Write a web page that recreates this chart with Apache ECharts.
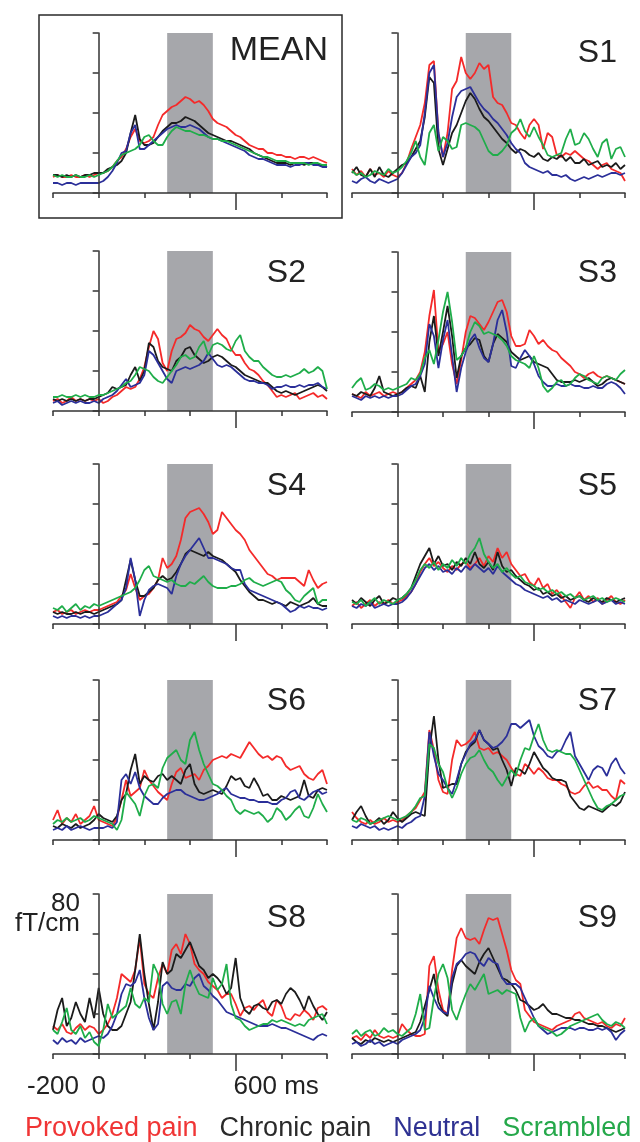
<!DOCTYPE html>
<html><head><meta charset="utf-8">
<script src="https://cdn.jsdelivr.net/npm/echarts@6/dist/echarts.min.js"></script>
<style>html,body{margin:0;padding:0;background:#fff}#c{width:640px;height:1142px}</style>
</head><body><div id="c"></div>
<script>
// time axis (ms), sampled every 20 ms
const times = [-200,-180,-160,-140,-120,-100,-80,-60,-40,-20,
  0,20,40,60,80,100,120,140,160,180,
  200,220,240,260,280,300,320,340,360,380,
  400,420,440,460,480,500,520,540,560,580,
  600,620,640,660,680,700,720,740,760,780,
  800,820,840,860,880,900,920,940,960,980,1000];
const conditions = ['Provoked pain','Chronic pain','Neutral','Scrambled'];
const panelNames = ['MEAN','S1','S2','S3','S4','S5','S6','S7','S8','S9'];
const xLabelsShown = [-200, 0, 600];
const yLabelShown = 80;
const bandRange = [300, 500];

// values in fT/cm
const MEAN_red = [8,9,8,8,9,8,8,9,8,9, 10,10,11,13,16,18,22,28,32,26, 25,26,28,34,39,41,43,44,46,48, 47,45,46,44,41,37,35,34,33,31, 29,28,26,24,23,22,22,20,20,19, 19,18,18,17,18,18,17,18,17,16, 15];
const MEAN_black = [9,9,8,9,8,9,8,9,9,10, 10,10,12,13,14,16,20,30,39,27, 24,24,25,28,31,33,35,35,36,38, 37,36,34,32,30,29,28,27,26,26, 25,24,23,22,20,19,18,17,16,15, 15,15,14,15,15,14,15,15,14,14, 13];
const MEAN_blue = [5,5,4,5,5,4,5,5,5,5, 5,6,8,11,15,20,21,30,34,22, 22,24,26,28,30,32,33,34,33,33, 34,33,32,30,28,27,27,26,25,24, 23,22,21,19,18,17,17,16,15,14, 14,14,13,14,14,15,15,14,14,13, 13];
const MEAN_green = [9,8,9,8,8,9,8,8,9,8, 9,10,11,13,16,19,20,21,22,24, 28,29,26,24,24,28,31,33,32,31, 31,30,29,29,28,27,27,26,26,25, 24,23,22,21,20,19,18,18,17,16, 16,16,15,15,15,15,14,15,15,14, 14];

const S1_red = [12,9,11,8,12,9,10,8,11,9, 8,10,15,22,28,34,45,64,66,30, 18,30,52,56,68,60,57,60,65,62, 64,48,45,44,40,35,34,30,27,34, 37,34,22,30,28,19,18,20,19,21, 19,17,16,14,12,14,15,12,11,10, 6];
const S1_black = [10,13,9,8,12,8,13,9,8,10, 12,14,15,18,22,26,38,58,55,22, 14,22,30,34,40,46,50,47,42,38, 36,33,30,27,25,22,20,22,21,19, 18,20,17,16,18,17,19,16,18,15, 15,17,14,15,16,13,14,13,15,12, 14];
const S1_blue = [6,5,7,8,6,5,7,6,5,6, 7,10,14,18,20,24,40,60,64,30, 18,25,38,48,51,52,53,49,45,42, 40,37,35,32,29,25,22,20,15,13, 12,11,10,11,9,9,8,9,7,6, 7,8,7,8,9,8,9,10,10,9, 10];
const S1_green = [11,9,10,8,9,11,10,9,12,10, 11,13,16,20,26,18,14,30,34,21, 28,26,22,23,34,35,34,33,31,26, 21,19,19,21,24,30,32,37,31,28, 33,28,24,19,18,19,20,27,32,24, 25,30,27,22,18,25,27,17,22,23, 18];

const S2_red = [5,6,4,5,7,5,6,5,6,5, 6,4,5,7,8,10,12,11,12,16, 22,32,40,36,24,20,30,36,37,39, 43,41,40,37,35,38,41,38,36,31, 28,28,24,21,20,18,15,13,10,7, 8,7,8,9,6,7,8,9,7,8, 6];
const S2_black = [6,5,6,5,6,5,6,5,6,6, 7,8,9,12,11,12,13,18,22,15, 20,34,32,25,22,21,20,25,27,31, 32,28,26,24,25,27,28,27,25,23, 22,20,18,17,16,15,14,14,12,10, 9,10,9,8,9,10,11,12,13,12, 10];
const S2_blue = [4,5,3,4,5,4,5,4,4,5, 4,6,7,8,10,13,16,12,13,14, 18,30,28,24,20,16,14,20,21,22, 21,22,23,25,29,26,23,22,23,22, 20,18,16,15,15,14,14,13,11,12, 12,13,12,12,13,12,13,13,14,12, 11];
const S2_green = [7,7,8,7,7,8,7,8,7,7, 8,8,9,10,11,12,14,15,18,22, 21,20,17,15,14,17,20,23,27,28, 26,27,32,35,28,33,34,33,31,30, 35,38,30,27,25,25,22,20,18,17, 17,18,17,18,19,21,19,20,22,20, 11];

const S3_red = [9,8,7,10,8,9,10,8,9,10, 9,10,12,14,16,20,30,48,61,30, 34,40,24,14,26,40,48,47,44,41, 45,50,55,56,50,38,33,33,34,41, 38,34,36,33,31,30,27,25,23,20, 19,17,19,20,18,17,18,17,16,15, 14];
const S3_black = [9,8,10,9,8,12,18,10,9,8, 9,10,12,13,12,18,10,35,48,28, 40,53,38,17,28,32,34,37,36,28, 25,34,39,37,35,30,28,26,27,28, 25,24,23,22,19,16,15,15,15,16, 15,16,17,15,13,14,16,17,16,15, 14];
const S3_blue = [8,7,6,8,7,8,7,8,7,8, 8,9,11,13,14,18,24,44,38,22, 36,46,28,10,22,30,36,39,32,27, 25,34,46,51,40,23,22,27,31,28, 24,18,15,13,13,14,13,13,14,13, 13,12,12,13,12,12,14,15,14,12, 9];
const S3_green = [12,15,17,11,12,14,13,11,12,11, 12,13,14,17,16,19,27,31,24,36, 50,60,45,26,28,32,40,45,43,39, 40,39,38,36,33,28,26,25,24,22, 28,22,13,10,12,15,16,13,14,17, 19,18,16,15,14,17,18,17,16,19, 21];

const S4_red = [6,7,5,6,7,5,6,7,6,7, 7,8,9,10,11,14,17,25,18,12, 14,15,18,22,33,28,30,34,42,53, 56,57,58,55,51,45,47,56,53,50, 47,45,42,37,34,31,28,25,24,22, 23,23,23,23,21,19,27,22,18,20, 21];
const S4_black = [6,5,6,5,5,6,5,6,6,5, 6,7,8,9,10,12,22,32,22,14, 14,16,18,22,24,22,23,26,30,35, 37,36,35,34,36,34,33,32,30,28, 26,22,19,16,14,12,12,11,10,11, 10,9,11,10,9,10,11,13,10,9, 9];
const S4_blue = [4,3,4,3,4,4,3,4,3,4, 4,5,6,8,10,12,18,33,22,4, 12,17,19,20,19,18,15,24,30,34, 37,40,43,38,33,33,32,31,30,28, 27,27,20,17,16,15,14,13,12,11, 10,8,6,7,9,8,9,8,8,7, 8];
const S4_green = [8,7,9,6,8,10,7,9,8,10, 9,10,11,12,13,14,15,16,18,22, 27,29,24,23,22,21,22,20,19,19, 21,20,22,24,21,19,18,18,18,19, 19,20,22,23,21,20,19,20,21,22, 21,17,15,12,11,14,16,18,10,12, 12];

const S5_red = [9,11,8,10,12,9,11,10,12,10, 11,12,14,16,20,26,30,33,29,31, 28,26,29,27,30,31,28,30,33,29, 34,31,38,33,36,30,27,24,25,21, 19,23,18,20,15,17,14,11,8,13, 16,12,14,11,13,10,12,14,11,10, 12];
const S5_black = [12,10,13,11,9,12,14,10,11,13, 12,13,15,18,24,30,34,38,30,34, 29,30,27,31,29,33,30,36,30,28, 31,27,36,29,26,27,24,22,20,19, 17,18,15,16,14,15,13,14,12,13, 14,12,11,13,12,11,13,12,11,12, 13];
const S5_blue = [9,8,10,9,11,8,9,10,9,10, 10,11,13,16,20,24,28,30,27,29, 26,27,25,28,26,29,27,30,28,26, 28,25,29,26,24,22,20,19,17,16, 15,14,13,14,12,13,11,12,11,10, 12,11,10,11,12,10,11,12,10,11, 10];
const S5_green = [11,10,12,9,11,13,10,12,11,10, 12,13,15,18,22,27,30,28,31,27, 30,28,32,29,33,30,35,38,43,35, 31,28,30,26,28,25,23,24,21,20, 19,17,18,16,17,15,16,14,15,13, 14,12,13,14,12,13,11,12,13,12, 11];

const S6_red = [10,15,8,11,9,13,8,10,12,17, 10,9,8,7,11,20,30,22,24,26, 35,30,27,24,22,20,28,34,36,31, 32,33,30,35,37,40,41,42,41,43, 42,41,45,49,46,43,41,42,40,42, 41,37,35,36,37,33,31,30,33,35, 28];
const S6_black = [7,6,8,7,6,8,6,7,8,10, 13,11,10,9,12,20,23,35,43,28, 32,30,29,32,33,30,32,30,28,35, 38,28,24,23,24,25,24,23,27,32, 30,31,27,26,31,27,22,23,20,20, 22,21,20,21,22,30,22,21,25,26, 25];
const S6_blue = [5,6,5,7,5,6,7,6,5,6, 6,6,7,6,9,30,33,28,34,26, 22,20,18,18,21,23,24,25,25,23, 22,21,20,20,21,22,23,25,26,23, 22,21,21,20,20,19,19,19,18,18, 20,21,24,25,21,20,22,24,25,23, 24];
const S6_green = [8,10,9,11,9,10,11,9,10,12, 11,10,9,8,5,10,24,21,18,12, 22,27,28,26,36,41,43,45,40,38, 50,54,45,38,33,28,27,25,22,20, 15,13,15,14,13,14,12,9,11,16, 14,10,12,15,17,12,11,16,23,18, 14];

const S7_red = [14,11,9,8,10,8,9,11,9,10, 9,10,12,14,16,20,24,55,45,30, 24,23,40,50,47,48,50,54,46,45, 46,43,44,42,40,36,33,32,38,36, 33,36,34,31,30,30,28,27,24,23, 24,27,29,26,27,25,25,22,20,30, 28];
const S7_black = [10,14,17,12,8,9,11,8,10,14, 11,9,11,13,14,13,12,45,62,40, 26,27,28,28,38,44,47,49,55,50, 48,45,46,40,35,27,36,35,33,38, 44,40,36,34,31,30,30,29,22,19, 16,15,17,16,15,14,16,18,17,19, 24];
const S7_blue = [7,6,8,7,6,7,5,6,5,6, 7,6,8,9,11,12,22,54,42,33, 30,26,23,30,38,43,48,50,55,50, 48,46,47,49,52,58,58,56,58,60, 52,47,45,42,41,44,45,50,54,42, 38,34,30,35,37,36,32,38,41,36, 33];
const S7_green = [10,9,11,10,8,9,10,11,12,11, 10,11,12,14,17,21,22,48,46,38, 34,26,21,26,33,38,41,42,45,40, 36,34,30,27,31,35,32,40,46,45, 52,58,50,45,44,45,44,43,43,40, 35,30,25,20,16,15,17,18,20,22, 23];

const S8_red = [14,12,15,11,10,13,15,12,14,13, 10,12,15,20,28,40,38,36,42,58, 35,30,28,38,45,40,52,55,50,60, 55,45,42,40,36,34,32,28,30,30, 25,19,23,24,22,25,27,21,19,27, 24,18,17,20,19,22,20,17,23,24, 22];
const S8_black = [12,22,28,14,18,26,20,16,28,18, 33,20,14,12,12,14,20,26,42,60, 40,25,12,26,46,40,42,50,48,52, 56,50,44,42,38,40,38,35,30,33, 48,28,22,20,24,25,23,22,26,27, 25,30,33,31,27,22,29,24,20,17, 21];
const S8_blue = [7,5,8,6,7,5,8,6,7,8, 9,8,10,14,20,30,35,34,36,42, 28,18,12,15,34,36,33,32,32,35, 34,38,40,34,32,29,27,24,21,20, 19,18,17,16,15,14,14,14,15,14, 13,13,12,11,10,9,8,7,9,10, 9];
const S8_green = [12,10,16,23,12,10,14,8,11,6, 4,12,25,18,20,22,24,33,25,23, 28,26,45,40,25,20,26,27,20,35, 42,35,30,29,28,38,32,35,45,25, 18,17,14,12,13,14,15,15,17,16, 17,16,15,14,15,14,17,18,19,20, 15];

const S9_red = [8,9,7,10,8,12,9,8,9,8, 9,15,12,10,9,9,10,44,49,32, 22,20,42,58,63,58,57,58,55,62, 68,67,68,60,52,42,37,35,22,19, 16,15,14,13,12,14,15,16,17,20, 21,18,17,16,15,16,14,13,15,14, 18];
const S9_black = [8,6,5,7,6,8,7,6,7,6, 7,8,9,10,11,16,24,32,40,26, 21,19,35,44,47,44,42,40,46,50, 53,48,43,38,37,35,32,27,26,24, 22,23,25,22,20,20,19,18,18,17, 17,16,15,15,14,14,13,12,11,12, 13];
const S9_blue = [5,6,4,5,7,5,6,4,5,6, 5,7,8,9,10,12,18,34,28,23, 21,20,38,45,47,50,51,50,46,44, 48,46,45,38,35,35,35,33,28,23, 18,14,12,10,11,12,13,13,13,12, 13,13,12,12,13,12,13,11,7,10, 12];
const S9_green = [10,12,9,11,12,9,10,13,11,12, 10,9,11,13,20,30,12,13,28,40, 45,38,22,17,24,30,35,32,36,40, 30,31,32,30,32,31,30,18,11,16, 18,14,13,12,11,9,10,12,14,15, 16,17,18,19,20,17,15,14,16,15, 13];

const panelData = [
  [MEAN_red, MEAN_black, MEAN_blue, MEAN_green],
  [S1_red, S1_black, S1_blue, S1_green],
  [S2_red, S2_black, S2_blue, S2_green],
  [S3_red, S3_black, S3_blue, S3_green],
  [S4_red, S4_black, S4_blue, S4_green],
  [S5_red, S5_black, S5_blue, S5_green],
  [S6_red, S6_black, S6_blue, S6_green],
  [S7_red, S7_black, S7_blue, S7_green],
  [S8_red, S8_black, S8_blue, S8_green],
  [S9_red, S9_black, S9_blue, S9_green]
];

// ---- styling / layout ----
const FONT = "'Liberation Sans', Arial, Helvetica, sans-serif";
const lineColors = ['#f42a2a', '#1b1b1b', '#2b2f99', '#1fad4a'];
const legendColors = ['#f03535', '#2a2a2a', '#2e3192', '#25a84a'];
const AX = '#333333';
const colLeft = [53, 352], colWidth = [274, 273];
const rowAxisY = [[193,193],[411,412],[624,624],[840,840],[1054,1054]];
const titleTop = [37, 257, 470, 685, 902];
const titleRight = [334, 23];
const plotH = 160;
const bottomLeftPanel = 8;

const grids = [], xAxes = [], yAxes = [], series = [], titles = [];
panelNames.forEach((name, p) => {
  const row = Math.floor(p / 2), col = p % 2;
  grids.push({left: colLeft[col], width: colWidth[col], top: rowAxisY[row][col] - plotH, height: plotH,
    containLabel: false, outerBoundsMode: 'none'});
  const showX = p === bottomLeftPanel;
  xAxes.push({
    type: 'value', gridIndex: p, position: 'bottom', min: -200, max: 1000, interval: 200, z: 5,
    axisLine: {onZero: false, lineStyle: {color: AX, width: 1.5}},
    axisTick: {length: 5, lineStyle: {color: AX, width: 1.5}},
    splitLine: {show: false},
    axisLabel: {
      show: showX, margin: 20, fontSize: 26, color: '#222', fontFamily: FONT,
      formatter: v => (xLabelsShown.indexOf(v) < 0 ? '' : (v === 600 ? '{u|600 ms}' : String(v))),
      rich: {u: {fontSize: 26, color: '#222', fontFamily: FONT, padding: [0, 0, 0, 81]}}
    }
  });
  xAxes.push({
    type: 'value', gridIndex: p, position: 'bottom', min: -200, max: 1000, interval: 200, z: 5,
    axisLine: {show: false, onZero: false},
    axisTick: {show: true, customValues: [600], length: 17, lineStyle: {color: AX, width: 1.5}},
    axisLabel: {show: false}, splitLine: {show: false}
  });
  yAxes.push({
    type: 'value', gridIndex: p, min: 0, max: 80, interval: 20, z: 5,
    axisLine: {show: true, onZero: true, lineStyle: {color: AX, width: 1.5}},
    axisTick: {show: true, length: 6, lineStyle: {color: AX, width: 1.5}},
    splitLine: {show: false},
    axisLabel: {
      show: p === bottomLeftPanel, margin: -27, fontSize: 26, color: '#222', fontFamily: FONT,
      verticalAlign: 'top', lineHeight: 20, align: 'right',
      formatter: v => (v === yLabelShown ? v + '\nfT/cm' : '')
    }
  });
  series.push({
    type: 'line', xAxisIndex: 2 * p, yAxisIndex: p, silent: true, z: 1,
    data: [[-200, 0], [1000, 0]], symbol: 'none', lineStyle: {opacity: 0},
    markArea: {silent: true, itemStyle: {color: '#a6a7ab', opacity: 1},
      data: [[{xAxis: bandRange[0]}, {xAxis: bandRange[1]}]]}
  });
  panelData[p].forEach((vals, k) => {
    series.push({
      type: 'line', name: conditions[k], xAxisIndex: 2 * p, yAxisIndex: p, z: 2 + k,
      data: times.map((t, i) => [t, vals[i]]), symbol: 'none', showSymbol: false,
      lineStyle: {color: lineColors[k], width: 1.8}, itemStyle: {color: lineColors[k]}
    });
  });
  titles.push({
    text: name, right: name === 'MEAN' ? 312 : titleRight[col], top: name === 'MEAN' ? 34 : titleTop[row],
    padding: 0,
    textStyle: {fontSize: name === 'MEAN' ? 34 : 32, fontWeight: 'normal', color: '#222', fontFamily: FONT}
  });
});

const chart = echarts.init(document.getElementById('c'), null, {renderer: 'canvas'});
chart.setOption({
  animation: false,
  backgroundColor: '#fff',
  title: titles,
  grid: grids, xAxis: xAxes, yAxis: yAxes, series: series,
  legend: {
    left: 20, top: 1115, padding: 0, itemWidth: 0, itemHeight: 0, itemGap: 17, selectedMode: false,
    icon: 'rect',
    textStyle: {fontSize: 27, fontFamily: FONT},
    data: conditions.map((c, i) => ({name: c, textStyle: {color: legendColors[i]}}))
  },
  graphic: [{type: 'rect', z: 10, silent: true, shape: {x: 39, y: 15, width: 303, height: 203},
    style: {fill: null, stroke: '#2a2a2a', lineWidth: 1.5}}]
});
</script></body></html>
